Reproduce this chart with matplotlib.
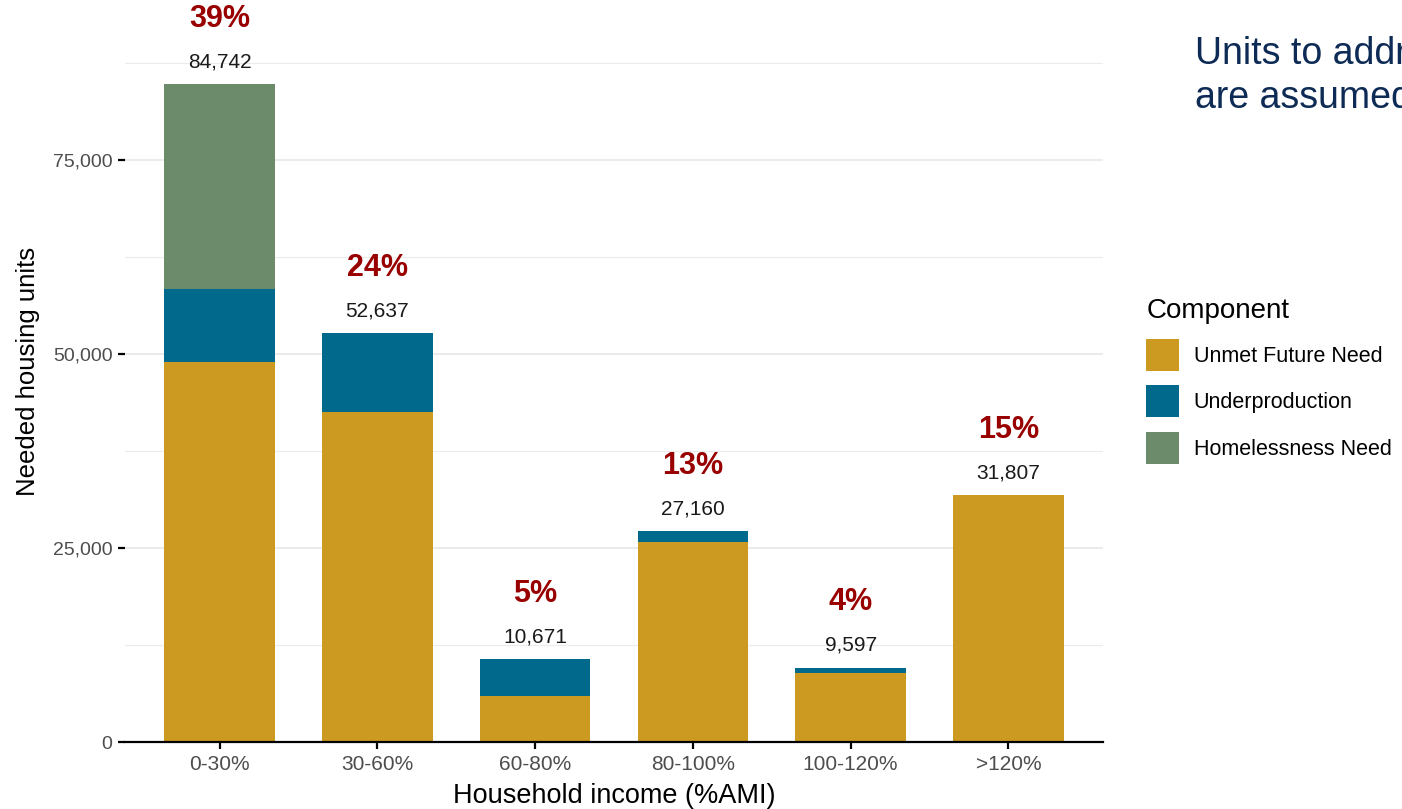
import numpy as np
import matplotlib.pyplot as plt
from matplotlib.ticker import FuncFormatter, MultipleLocator
from matplotlib.patches import Patch

plt.rcParams['font.family'] = ['Liberation Sans', 'DejaVu Sans']

income_bands = ['0-30%', '30-60%', '60-80%', '80-100%', '100-120%', '>120%']
totals = [84742, 52637, 10671, 27160, 9597, 31807]
unmet_future = [48970, 42530, 5930, 25770, 8850, 31807]
homelessness = [26360, 0, 0, 0, 0, 0]
underproduction = [t - u - h for t, u, h in zip(totals, unmet_future, homelessness)]

components = ['Unmet Future Need', 'Underproduction', 'Homelessness Need']
colors = ['#CC9A20', '#00698C', '#6B8B6A']

fig = plt.figure(figsize=(14.02, 8.09), dpi=100)
ax = fig.add_axes([0.0892, 0.0828, 0.6975, 0.9172])

x = np.arange(len(income_bands))
bottom = np.zeros(len(x))
for vals, color in zip([unmet_future, underproduction, homelessness], colors):
    ax.bar(x, vals, width=0.7, bottom=bottom, color=color, zorder=2)
    bottom += np.array(vals)

grand_total = sum(totals)
for xi, t in zip(x, totals):
    ax.annotate(f'{t:,}', (xi, t), xytext=(0, 16), textcoords='offset points',
                ha='center', va='center', fontsize=15, color='#1a1a1a')
    ax.annotate(f'{t / grand_total:.0%}', (xi, t), xytext=(0, 47), textcoords='offset points',
                ha='center', va='center', fontsize=22, fontweight='bold', color='#990000',
                annotation_clip=False)

ax.set_xlim(-0.6, 5.6)
ax.set_ylim(0, 95600)
ax.set_xticks(x)
ax.set_xticklabels(income_bands)
ax.yaxis.set_major_locator(MultipleLocator(25000))
ax.yaxis.set_minor_locator(MultipleLocator(12500))
ax.yaxis.set_major_formatter(FuncFormatter(lambda v, p: f'{int(v):,}'))
ax.grid(axis='y', which='major', color='#EBEBEB', linewidth=1.4, zorder=0)
ax.grid(axis='y', which='minor', color='#EBEBEB', linewidth=0.8, zorder=0)
ax.set_axisbelow(True)

for s in ['top', 'right', 'left']:
    ax.spines[s].set_visible(False)
ax.spines['bottom'].set_linewidth(1.6)
ax.tick_params(axis='x', length=5, width=1.6, colors='black', labelcolor='#4D4D4D', labelsize=15, pad=4)
ax.tick_params(axis='y', which='major', length=5, width=1.6, colors='black', labelcolor='#4D4D4D', labelsize=14, pad=4)
ax.tick_params(axis='y', which='minor', length=0)

ax.set_xlabel('Household income (%AMI)', fontsize=19.5, labelpad=7)
ax.set_ylabel('Needed housing units', fontsize=18.5, labelpad=9)

handles = [Patch(facecolor=c, label=l) for c, l in zip(colors, components)]
leg = fig.legend(handles=handles, title='Component', loc='upper left',
                 bbox_to_anchor=(0.8115, 0.642), frameon=False, fontsize=15.5,
                 title_fontsize=20, handlelength=1.5, handleheight=1.9,
                 labelspacing=0.68, handletextpad=0.7, borderaxespad=0)
leg._legend_box.align = 'left'

fig.text(0.852, 0.906, 'Units to address homelessness\nare assumed to be deeply affordable',
         fontsize=27, color='#0D2B55', va='center', ha='left', linespacing=1.3)

fig.savefig('out.png', dpi=100)
